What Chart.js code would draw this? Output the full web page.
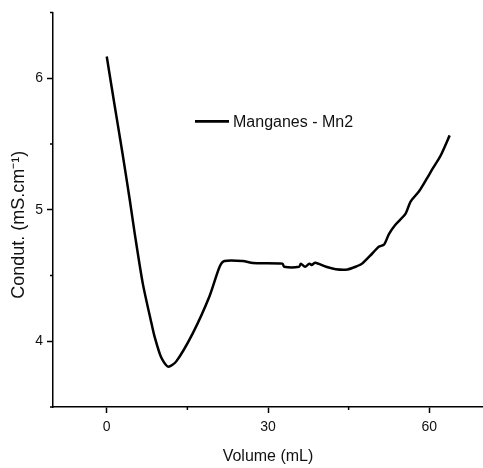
<!DOCTYPE html>
<html>
<head>
<meta charset="utf-8">
<script src="https://cdn.jsdelivr.net/npm/chart.js@4.4.1/dist/chart.umd.min.js"></script>
<style>
  html, body { margin: 0; padding: 0; background: #fff; }
  canvas { display: block; }
</style>
</head>
<body>
<canvas id="myChart" width="483" height="468"></canvas>
<script>
// volume (mL) vs conductivity (mS/cm)
const volume = [0, 1, 2, 3, 4.3, 5.2, 6.7, 8.3, 8.9, 10.1, 11.4, 12.9, 16.0, 19.1, 21.0, 21.9,
    25.3, 27.2, 32.7, 33.0, 35.8, 36.1, 36.9, 37.7, 38.1, 38.8, 40.8, 42.6, 44.8, 46.3, 47.5,
    49.4, 50.6, 51.6, 52.5, 53.7, 55.6, 56.5, 58.1, 59.6, 60.6, 62.1, 63.8];
const condut = [6.165, 5.91, 5.66, 5.41, 5.07, 4.82, 4.44, 4.14, 4.035, 3.88, 3.807, 3.845, 4.06, 4.34, 4.566, 4.61,
    4.61, 4.595, 4.59, 4.566, 4.566, 4.59, 4.566, 4.59, 4.58, 4.597, 4.566, 4.548, 4.546, 4.566, 4.59,
    4.667, 4.718, 4.735, 4.815, 4.886, 4.97, 5.06, 5.14, 5.24, 5.31, 5.41, 5.565];
const seriesName = 'Manganes - Mn2';
const xTicks = [0, 30, 60];
const yTicks = [4, 5, 6];

const pontos = volume.map((v, i) => ({ x: v, y: condut[i] }));

// minor ticks + legend drawn inside the plot area
const extras = {
    id: 'extras',
    afterDraw(chart) {
        const { ctx, chartArea, scales: { x, y } } = chart;
        ctx.save();
        ctx.strokeStyle = '#000';
        ctx.lineWidth = 1.5;
        ctx.beginPath();
        x.ticks.forEach(t => {
            if (!xTicks.includes(t.value)) {
                const px = x.getPixelForValue(t.value);
                ctx.moveTo(px, chartArea.bottom);
                ctx.lineTo(px, chartArea.bottom + 3);
            }
        });
        y.ticks.forEach(t => {
            if (!yTicks.includes(t.value)) {
                const py = y.getPixelForValue(t.value);
                ctx.moveTo(chartArea.left, py);
                ctx.lineTo(chartArea.left - 3, py);
            }
        });
        ctx.stroke();

        // legend
        const lx = chartArea.left + 142;
        const ly = chartArea.top + 109;
        ctx.lineWidth = 2.7;
        ctx.beginPath();
        ctx.moveTo(lx, ly);
        ctx.lineTo(lx + 34, ly);
        ctx.stroke();
        ctx.fillStyle = '#111';
        ctx.font = '16px "Liberation Sans", Arial, sans-serif';
        ctx.textBaseline = 'alphabetic';
        ctx.fillText(chart.data.datasets[0].label, lx + 38, ly + 6);
        ctx.restore();
    }
};

const chart = new Chart(document.getElementById('myChart'), {
    type: 'line',
    data: {
        datasets: [{
            label: seriesName,
            data: pontos,
            borderColor: '#000',
            borderWidth: 2.5,
            pointRadius: 0,
            tension: 0.25,
            fill: false
        }]
    },
    options: {
        responsive: false,
        animation: false,
        layout: { padding: { top: 12, left: 0, right: 0, bottom: 0 } },
        plugins: {
            legend: { display: false },
            tooltip: { enabled: false }
        },
        scales: {
            x: {
                type: 'linear',
                min: -10,
                max: 70,
                afterFit: (scale) => { scale.height = 61; },
                border: { display: true, color: '#000', width: 1.5 },
                grid: {
                    drawOnChartArea: false,
                    tickLength: 6,
                    tickWidth: 1.5,
                    tickColor: (c) => xTicks.includes(c.tick.value) ? '#000' : 'transparent'
                },
                ticks: {
                    stepSize: 15,
                    includeBounds: false,
                    autoSkip: false,
                    maxRotation: 0,
                    padding: 6,
                    color: '#111',
                    font: { family: '"Liberation Sans", Arial, sans-serif', size: 14 },
                    callback: (v) => xTicks.includes(v) ? v : ''
                },
                title: {
                    display: true,
                    text: 'Volume (mL)',
                    color: '#111',
                    font: { family: '"Liberation Sans", Arial, sans-serif', size: 16 },
                    padding: { top: 0, bottom: 2 }
                }
            },
            y: {
                type: 'linear',
                min: 3.5,
                max: 6.5,
                afterFit: (scale) => { scale.width = 53; },
                border: { display: true, color: '#000', width: 1.5 },
                grid: {
                    drawOnChartArea: false,
                    tickLength: 6,
                    tickWidth: 1.5,
                    tickColor: (c) => yTicks.includes(c.tick.value) ? '#000' : 'transparent'
                },
                ticks: {
                    stepSize: 0.5,
                    includeBounds: false,
                    autoSkip: false,
                    padding: 4,
                    color: '#111',
                    font: { family: '"Liberation Sans", Arial, sans-serif', size: 14 },
                    callback: (v) => yTicks.includes(v) ? v : ''
                },
                title: {
                    display: true,
                    text: 'Condut. (mS.cm\u207B\u00B9)      ',
                    color: '#111',
                    font: { family: '"Liberation Sans", Arial, sans-serif', size: 18 },
                    padding: { top: 8, bottom: 0 }
                }
            }
        }
    },
    plugins: [extras]
});
</script>
</body>
</html>
